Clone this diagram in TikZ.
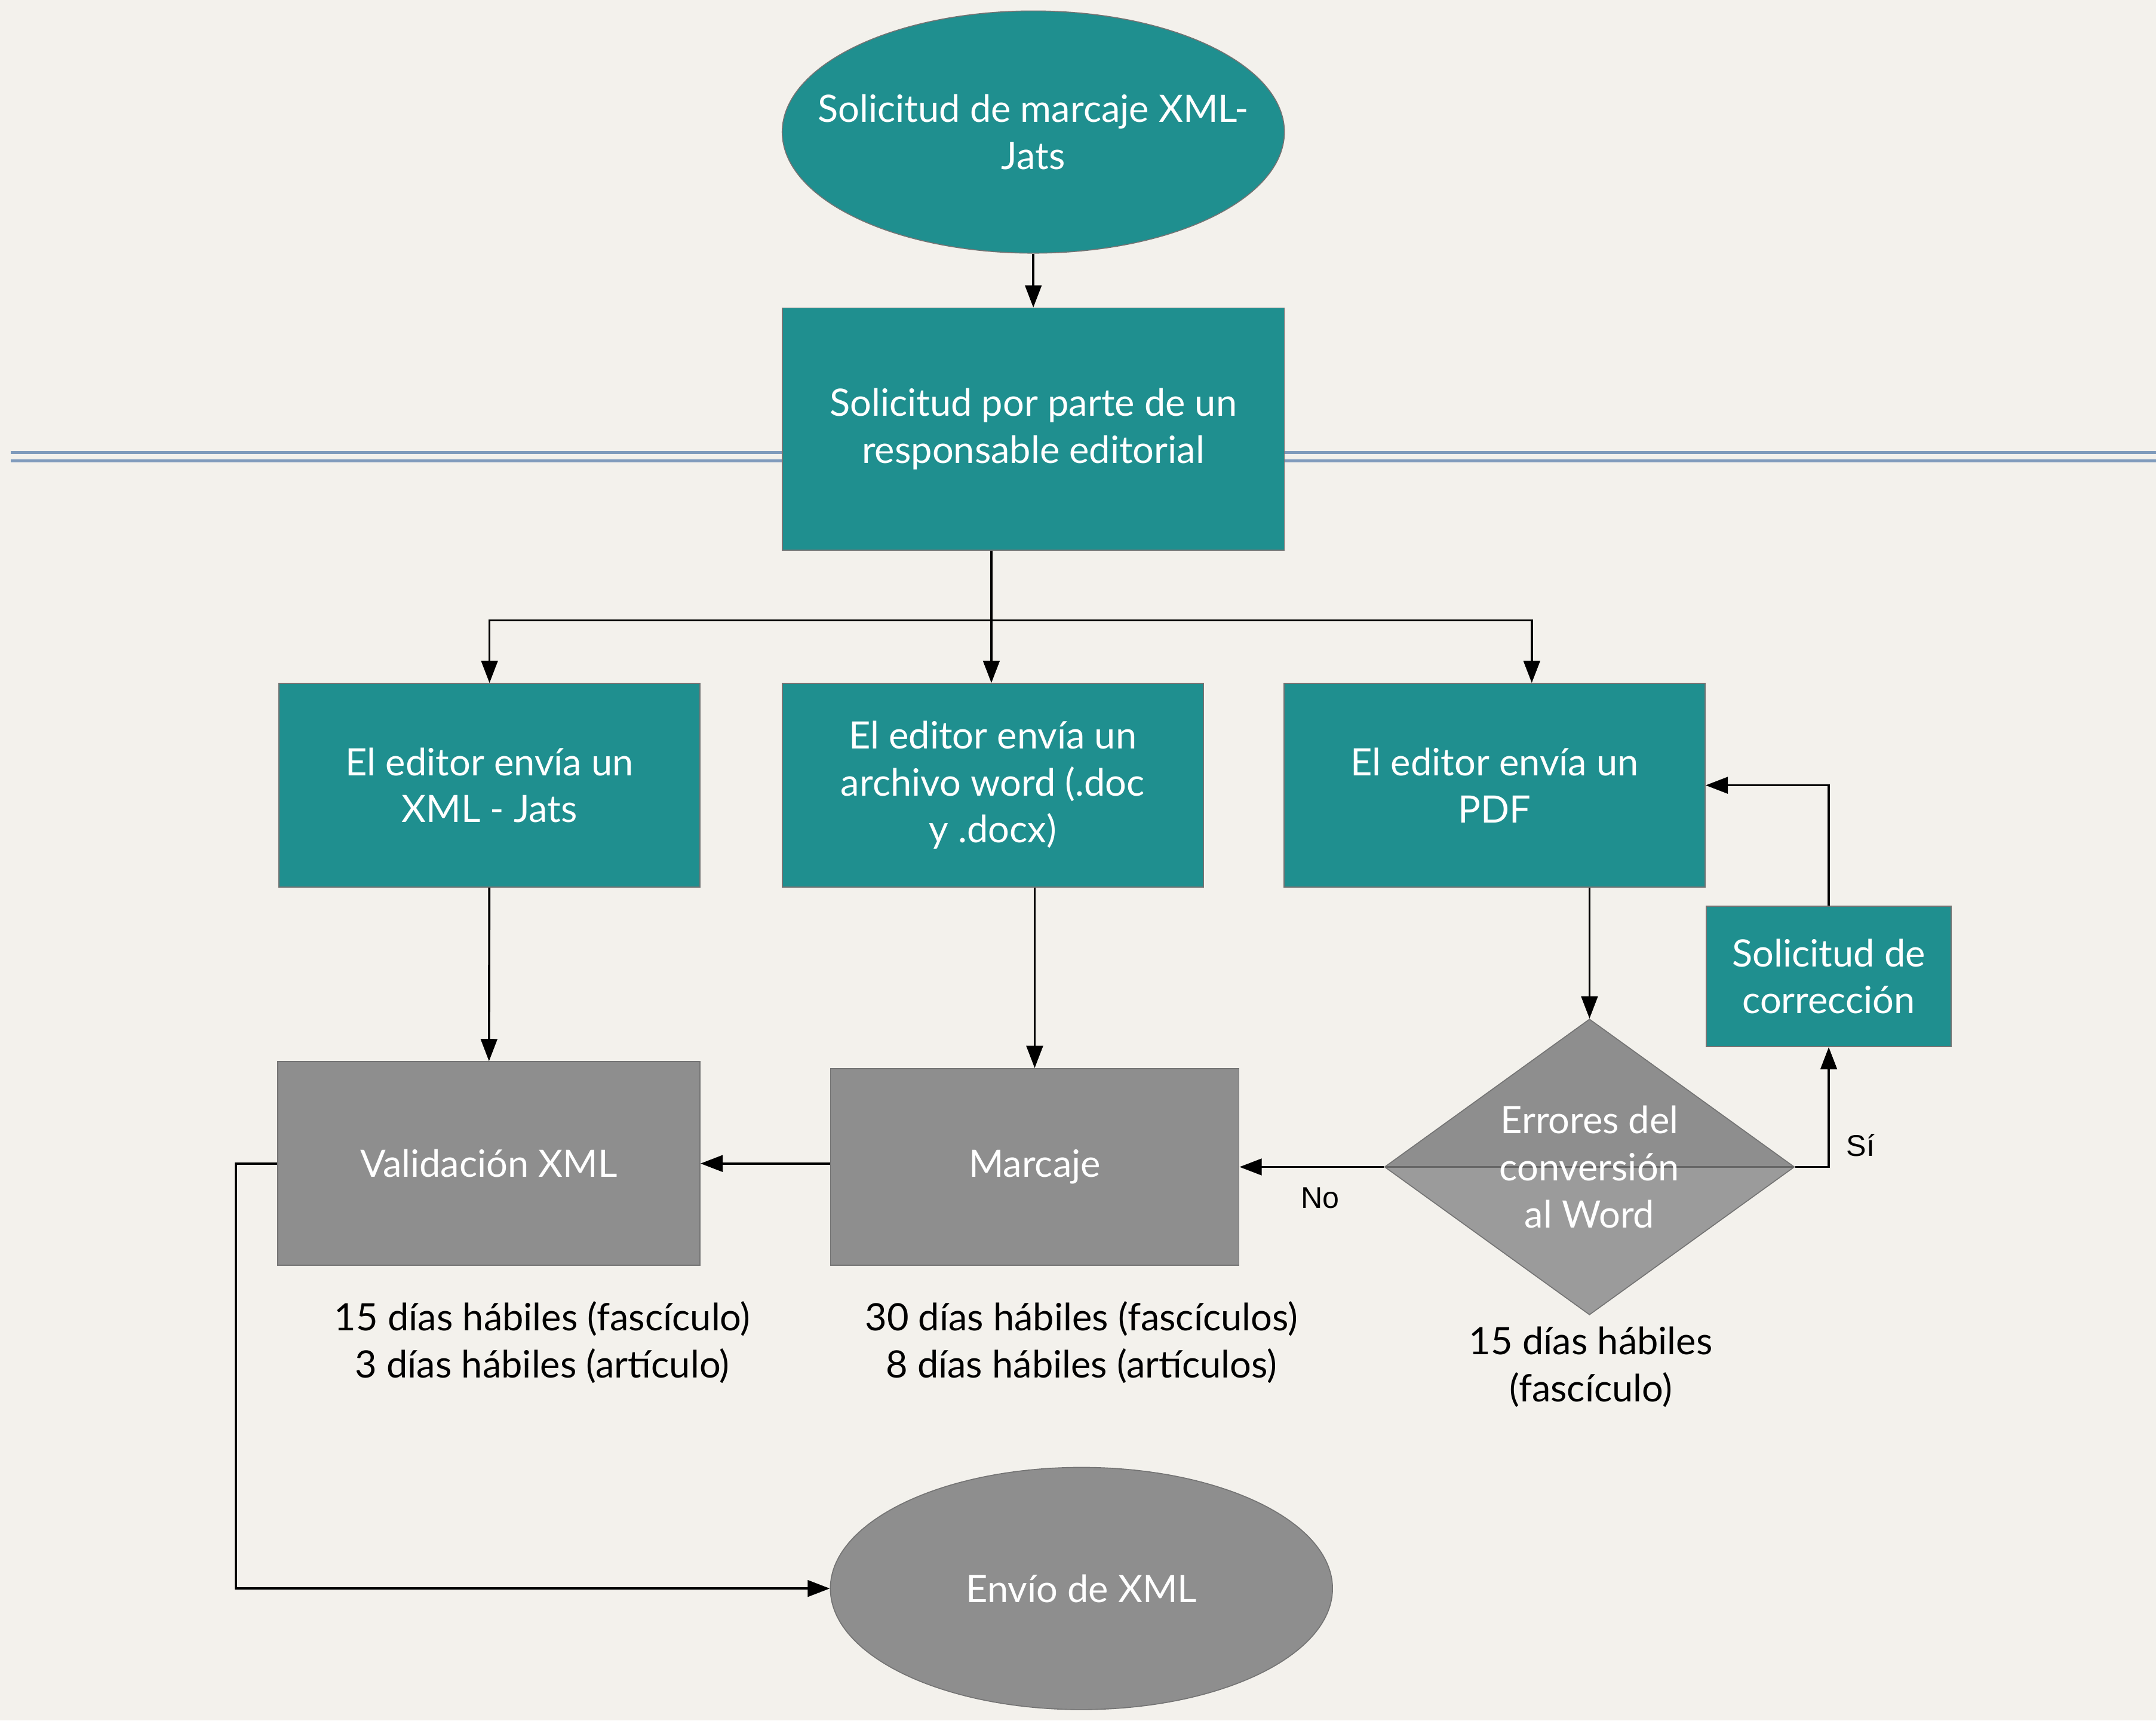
\documentclass[tikz,border=0pt]{standalone}
\usepackage{fontspec}
\setmainfont{Lato}
\newfontfamily\helv{Liberation Sans}
\usetikzlibrary{arrows.meta,shapes.geometric}
\definecolor{verde}{RGB}{31,143,143}
\definecolor{gris}{RGB}{142,142,142}
\definecolor{grisclaro}{RGB}{155,155,155}
\definecolor{fondo}{RGB}{243,241,236}
\definecolor{raya}{RGB}{128,155,188}
\tikzset{
	caja/.style={rectangle, draw=black!55, line width=0.2pt, text=white, align=center, inner sep=0pt, font=\fontsize{7.8}{9.7}\selectfont},
	verdecaja/.style={caja, fill=verde},
	griscaja/.style={caja, fill=gris},
	elipse/.style={caja, ellipse, minimum width=3.65cm, minimum height=1.76cm},
	rombo/.style={caja, diamond, aspect=1.39, fill=gris, minimum width=2.98cm, minimum height=2.15cm,
		path picture={\fill[grisclaro] (path picture bounding box.west) -- (path picture bounding box.south) -- (path picture bounding box.east) -- cycle;
			\draw[black!60, line width=0.3pt] (path picture bounding box.west) -- (path picture bounding box.east);}},
	nota/.style={align=center, inner sep=0pt, font=\fontsize{7.8}{9.7}\selectfont},
	etiqueta/.style={font=\helv\fontsize{6.2}{7}\selectfont, inner sep=0pt}
}
\begin{document}
\begin{tikzpicture}[x=0.01cm, y=-0.01cm, >={Triangle[length=4.6pt,width=3.4pt]}, line width=0.45pt]
	\fill[fondo] (0,0) rectangle (1568,1251);
	\useasboundingbox (0,0) rectangle (1568,1251);
	\draw[raya, line width=0.6pt] (8,329) -- (1568,329) (8,335) -- (1568,335);
	% Nodos
	\node[elipse, fill=verde, inner xsep=-0.28cm] (ini) at (751.5,96) {Solicitud de marcaje XML-\\Jats};
	\node[verdecaja, minimum width=3.65cm, minimum height=1.76cm] (sol) at (751.5,312) {Solicitud por parte de un\\responsable editorial};
	\node[verdecaja, minimum width=3.06cm, minimum height=1.48cm] (xml) at (356,571) {El editor envía un\\XML - Jats};
	\node[verdecaja, minimum width=3.06cm, minimum height=1.48cm] (word) at (722,571) {El editor envía un\\archivo word (.doc\\y .docx)};
	\node[verdecaja, minimum width=3.06cm, minimum height=1.48cm] (pdf) at (1087,571) {El editor envía un\\PDF};
	\node[verdecaja, minimum width=1.78cm, minimum height=1.02cm] (corr) at (1330,710) {Solicitud de\\corrección};
	\node[griscaja, minimum width=3.07cm, minimum height=1.48cm] (val) at (355.5,846) {Validación XML};
	\node[griscaja, minimum width=2.97cm, minimum height=1.43cm] (marc) at (752.5,848.5) {Marcaje};
	\node[rombo] (err) at (1156,848.5) {Errores del\\conversión\\al Word};
	\node[elipse, fill=gris] (fin) at (786.5,1155) {Envío de XML};
	\node[nota] (tval) at (394.5,976) {15 días hábiles (fascículo)\\3 días hábiles (artículo)};
	\node[nota] (tmarc) at (786.5,976) {30 días hábiles (fascículos)\\8 días hábiles (artículos)};
	\node[nota] (terr) at (1157,994) {15 días hábiles\\(fascículo)};
	% Conectores
	\coordinate (rama) at (721,451);
	\draw[->] (ini) -- (sol);
	\draw (sol.south -| rama) -- (rama);
	\draw[->] (rama) -| (xml.north);
	\draw[->] (rama) -- (word.north -| rama);
	\draw[->] (rama) -| ([xshift=0.27cm]pdf.north);
	\draw[->] (xml) -- (val);
	\draw[->] (word.south -| marc.north) -- (marc.north);
	\draw[->] (pdf.south -| err.north) -- (err.north);
	\draw[->] (err.west) -- (marc.east) node[etiqueta, midway, below=0.14cm, xshift=0.06cm] {No};
	\draw[->] (err.east) -| (corr.south) node[etiqueta, pos=0.5, anchor=south west, xshift=0.12cm, yshift=0.07cm] {Sí};
	\draw[->] (corr.north) |- (pdf.east);
	\draw[->] (marc.west |- val.east) -- (val.east);
	\draw[->] (val.west) -- ++(-30,0) |- (fin.west);
\end{tikzpicture}
\end{document}
